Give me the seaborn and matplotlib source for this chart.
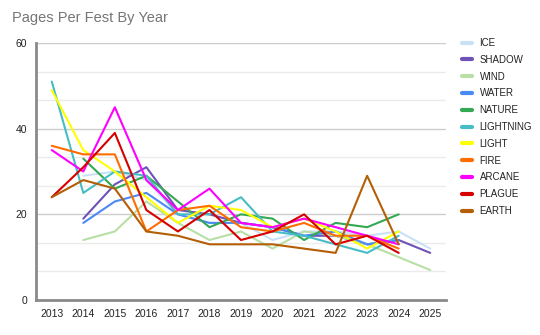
import numpy as np
import pandas as pd
import matplotlib
matplotlib.use("Agg")
import matplotlib.pyplot as plt
import seaborn as sns
from matplotlib.ticker import FixedLocator

years = list(range(2013, 2026))
nan = np.nan

ice       = [nan, 29, 30, 28, 20, 18, 18, 14, 16, 16, 15, 16, 12]
shadow    = [nan, 19, 27, 31, 21, 20, 18, 17, 15, 15, 13, 14, 11]
wind      = [nan, 14, 16, 23, 18, 14, 16, 12, 16, 15, 13, 10, 7]
water     = [nan, 18, 23, 25, 20, 18, 18, 17, 15, 16, 13, 14, nan]
nature    = [nan, 33, 26, 29, 23, 17, 20, 19, 14, 18, 17, 20, nan]
lightning = [51, 25, 30, 29, 20, 20, 24, 16, 15, 13, 11, 15, nan]
light     = [49, 35, 30, 24, 18, 22, 21, 17, 19, 16, 12, 16, nan]
fire      = [36, 34, 34, 16, 21, 22, 17, 16, 18, 15, 15, 12, nan]
arcane    = [35, 30, 45, 28, 21, 26, 18, 17, 19, 17, 15, 13, nan]
plague    = [24, 31, 39, 21, 16, 21, 14, 16, 20, 13, 15, 11, nan]
earth     = [24, 28, 26, 16, 15, 13, 13, 13, 12, 11, 29, 13, nan]

series_names = ["ICE", "SHADOW", "WIND", "WATER", "NATURE", "LIGHTNING",
                "LIGHT", "FIRE", "ARCANE", "PLAGUE", "EARTH"]
series_values = [ice, shadow, wind, water, nature, lightning,
                 light, fire, arcane, plague, earth]
colors = ["#c9e1f6", "#6f52b8", "#b7dfa6", "#4a8af4", "#34a853", "#46bdc6",
          "#ffff00", "#ff6d01", "#ff00ff", "#d60000", "#b45f06"]

rows = []
for name, vals in zip(series_names, series_values):
    for y, v in zip(years, vals):
        if not np.isnan(v):
            rows.append({"Year": y, "Pages": v, "Type": name})
df = pd.DataFrame(rows)

sns.set_theme(style="white")
plt.rcParams['font.family'] = ['Liberation Sans', 'DejaVu Sans']

fig = plt.figure(figsize=(5.4, 3.35), dpi=100)
ax = fig.add_axes([36/540, 1-300/335, (446-36)/540, (300-43)/335])

sns.lineplot(data=df, x="Year", y="Pages", hue="Type", hue_order=series_names,
             palette=dict(zip(series_names, colors)), linewidth=1.5, ax=ax,
             legend=False, estimator=None, sort=True)

ax.set_xlim(2012.5, 2025.5)
ax.set_ylim(0, 60)
ax.set_xlabel("")
ax.set_ylabel("")

ax.xaxis.set_major_locator(FixedLocator(years))
ax.set_xticklabels([str(y) for y in years])
ax.yaxis.set_major_locator(FixedLocator([0, 20, 40, 60]))
ax.yaxis.set_minor_locator(FixedLocator([i * 20/3 for i in range(10) if i % 3 != 0]))

for y in [20, 40, 60]:
    ax.axhline(y, color="#cccccc", lw=1.0, zorder=0)
for i in range(10):
    if i % 3 != 0:
        ax.axhline(i * 20/3, color="#ebebeb", lw=1.0, zorder=0)

for s in ["top", "right"]:
    ax.spines[s].set_visible(False)
for s in ["left", "bottom"]:
    ax.spines[s].set_color("#8a8a8a")
    ax.spines[s].set_linewidth(2.0)

ax.tick_params(axis="both", which="both", direction="inout", length=6.5,
               width=1.0, color="#555555", labelsize=7.5, labelcolor="#222222", pad=3)

fig.text(12/540, 1-18/335, "Pages Per Fest By Year", fontsize=10.5,
         color="#757575", va="center", ha="left")

handles = [plt.Line2D([0], [0], color=c, lw=3) for c in colors]
leg = fig.legend(handles, series_names, loc="upper left",
                 bbox_to_anchor=(462/540, 1-38/335), frameon=False,
                 fontsize=7.0, handlelength=1.0, handletextpad=0.8,
                 labelspacing=0.70, borderaxespad=0, borderpad=0)
for t in leg.get_texts():
    t.set_color("#222222")

fig.savefig("out.png", dpi=100)
